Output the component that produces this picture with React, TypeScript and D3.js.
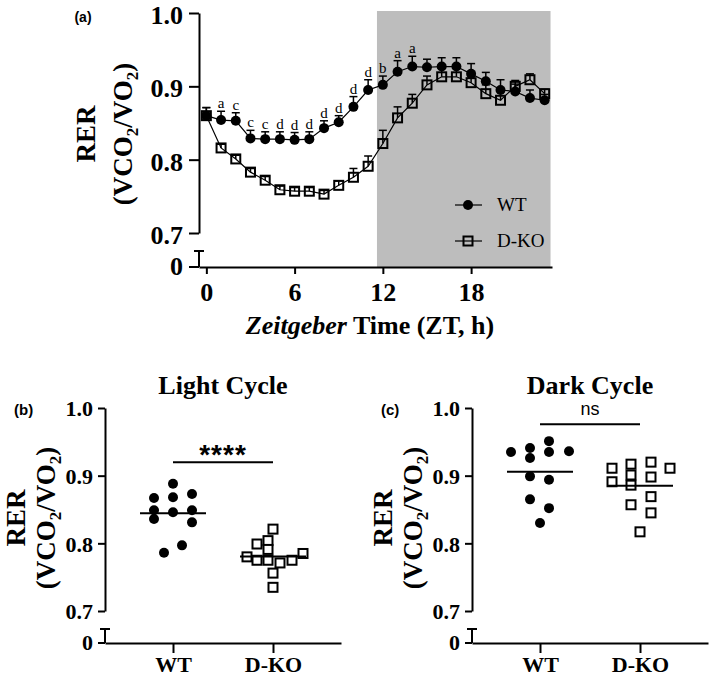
import React, { useEffect, useRef } from "react";
import * as d3 from "d3";

// ---- panel (a): RER time course ----
const zt = [0, 1, 2, 3, 4, 5, 6, 7, 8, 9, 10, 11, 12, 13, 14, 15, 16, 17, 18, 19, 20, 21, 22, 23];
const wtMean = [0.860, 0.854, 0.853, 0.829, 0.828, 0.828, 0.827, 0.828, 0.843, 0.851, 0.872, 0.895, 0.902, 0.920, 0.927, 0.926, 0.927, 0.927, 0.917, 0.907, 0.895, 0.893, 0.884, 0.881];
const wtSem = [0.011, 0.012, 0.011, 0.011, 0.010, 0.010, 0.010, 0.010, 0.010, 0.009, 0.014, 0.014, 0.012, 0.015, 0.014, 0.011, 0.012, 0.012, 0.014, 0.012, 0.014, 0.010, 0.011, 0.008];
const dkoMean = [0.860, 0.816, 0.801, 0.783, 0.772, 0.759, 0.757, 0.757, 0.753, 0.765, 0.776, 0.791, 0.822, 0.857, 0.877, 0.902, 0.913, 0.913, 0.905, 0.890, 0.881, 0.900, 0.909, 0.890];
const dkoSem = [0.011, 0.005, 0.005, 0.005, 0.005, 0.005, 0.005, 0.005, 0.005, 0.006, 0.012, 0.014, 0.018, 0.015, 0.012, 0.012, 0.012, 0.012, 0.012, 0.012, 0.012, 0.008, 0.008, 0.006];
const sigLetters = ["", "a", "c", "c", "c", "d", "d", "d", "d", "d", "d", "d", "b", "a", "a", "", "", "", "", "", "", "", "", ""];
const darkPhase = [11.6, 23.4];
const xTicks = [0, 6, 12, 18];
const yTicks = [0.7, 0.8, 0.9, 1.0];

// ---- panels (b) and (c): individual animals ----
const groups = ["WT", "D-KO"];
const lightWtValues = [0.888, 0.867, 0.868, 0.873, 0.849, 0.846, 0.849, 0.836, 0.831, 0.797, 0.786];
const lightWtLanes = [0, -1.9, 0, 1.9, -1.9, 0, 1.9, -1.9, 1.9, 0.9, -0.9];
const lightDkoValues = [0.821, 0.799, 0.804, 0.791, 0.780, 0.775, 0.775, 0.771, 0.775, 0.785, 0.756, 0.735];
const lightDkoLanes = [0, -1.6, -0.5, -0.5, -2.6, -1.6, -0.5, 0.7, 1.9, 3.0, 0, 0];
const darkWtValues = [0.951, 0.941, 0.935, 0.935, 0.936, 0.926, 0.899, 0.894, 0.865, 0.852, 0.830];
const darkWtLanes = [0.9, -1, 0.9, -2.9, 2.9, -1, -1, 0.9, -1, 0.9, 0];
const darkDkoValues = [0.911, 0.917, 0.920, 0.911, 0.891, 0.901, 0.898, 0.886, 0.869, 0.857, 0.845, 0.817];
const darkDkoLanes = [-2.8, -0.9, 1.1, 3.0, -2.8, -0.9, 1.1, -0.9, 1.1, -0.9, 1.1, 0];

const SERIF = "'Liberation Serif', 'Times New Roman', serif";
const SANS = "'Liberation Sans', Arial, sans-serif";

type Sel = d3.Selection<SVGGElement, unknown, null, undefined>;

function styleAxis(ax: Sel, size: number) {
  ax.select("path.domain").attr("stroke", "#000").attr("stroke-width", 2);
  ax.selectAll(".tick line").attr("stroke", "#000").attr("stroke-width", 2);
  ax.selectAll(".tick text")
    .attr("fill", "#000")
    .style("font-family", SERIF)
    .style("font-weight", "bold")
    .style("font-size", `${size}px`);
}

function rerLabel(g: Sel, cx: number, cy: number, gap: number) {
  // two-line rotated y title: "RER" and "(VCO2/VO2)"
  g.append("text")
    .attr("transform", `translate(${cx},${cy}) rotate(-90)`)
    .attr("text-anchor", "middle")
    .style("font-family", SERIF)
    .style("font-weight", "bold")
    .style("font-size", "27px")
    .text("RER");
  const t = g.append("text")
    .attr("transform", `translate(${cx + gap},${cy}) rotate(-90)`)
    .attr("text-anchor", "middle")
    .style("font-family", SERIF)
    .style("font-weight", "bold")
    .style("font-size", "27px");
  t.append("tspan").text("(VCO");
  t.append("tspan").attr("dy", 6).style("font-size", "17px").text("2");
  t.append("tspan").attr("dy", -6).text("/VO");
  t.append("tspan").attr("dy", 6).style("font-size", "17px").text("2");
  t.append("tspan").attr("dy", -6).text(")");
}

// little lower stub of the broken y axis with its "0" tick
function axisBreak(g: Sel, ax: number, capY: number, zeroY: number, tick: number, pad: number, size: number) {
  g.append("line").attr("x1", ax).attr("x2", ax).attr("y1", capY).attr("y2", zeroY)
    .attr("stroke", "#000").attr("stroke-width", 2);
  g.append("line").attr("x1", ax - 5).attr("x2", ax + 5).attr("y1", capY).attr("y2", capY)
    .attr("stroke", "#000").attr("stroke-width", 2);
  g.append("line").attr("x1", ax - tick).attr("x2", ax).attr("y1", zeroY).attr("y2", zeroY)
    .attr("stroke", "#000").attr("stroke-width", 2);
  g.append("text")
    .attr("x", ax - tick - pad).attr("y", zeroY).attr("dy", "0.32em")
    .attr("text-anchor", "end")
    .style("font-family", SERIF).style("font-weight", "bold").style("font-size", `${size}px`)
    .text("0");
}

function drawTimeCourse(svg: d3.Selection<SVGSVGElement, unknown, null, undefined>) {
  const g = svg.append("g") as Sel;
  const top = 13; // y of 1.0
  const x = d3.scaleLinear().domain([-0.5, 23.5]).range([199, 552]);
  const y = d3.scaleLinear().domain([0.7, 1.0]).range([top + 220, top]);
  const baseY = top + 254;
  const capY = top + 238;

  // dark phase shading
  g.append("rect")
    .attr("x", x(darkPhase[0]))
    .attr("y", y(1.0) - 2)
    .attr("width", x(darkPhase[1]) - x(darkPhase[0]))
    .attr("height", baseY - y(1.0) + 2)
    .attr("fill", "#bdbdbd");

  const yAxis = g.append("g")
    .attr("transform", `translate(${x(-0.5)},0)`)
    .call(d3.axisLeft(y).tickValues(yTicks).tickFormat(d3.format(".1f")).tickSize(10).tickSizeOuter(0).tickPadding(6));
  styleAxis(yAxis, 26);
  yAxis.selectAll(".tick text").attr("dy", "0.4em");
  axisBreak(g, x(-0.5), capY, baseY, 10, 6, 26);

  const xAxis = g.append("g")
    .attr("transform", `translate(0,${baseY})`)
    .call(d3.axisBottom(x).tickValues(xTicks).tickFormat(d3.format("d")).tickSize(7).tickSizeOuter(0).tickPadding(9));
  styleAxis(xAxis, 26);

  const series = [
    { name: "D-KO", mean: dkoMean, sem: dkoSem },
    { name: "WT", mean: wtMean, sem: wtSem },
  ];
  const line = d3.line<number>().x((_, i) => x(zt[i])).y((d) => y(d));

  series.forEach((s) => {
    g.append("path")
      .attr("d", line(s.mean))
      .attr("fill", "none")
      .attr("stroke", "#000")
      .attr("stroke-width", 1.2);

    // upward error bars
    const eb = g.append("g");
    s.mean.forEach((m, i) => {
      const cx = x(zt[i]);
      eb.append("line").attr("x1", cx).attr("x2", cx).attr("y1", y(m)).attr("y2", y(m + s.sem[i]))
        .attr("stroke", "#000").attr("stroke-width", 1.5);
      eb.append("line").attr("x1", cx - 4).attr("x2", cx + 4).attr("y1", y(m + s.sem[i])).attr("y2", y(m + s.sem[i]))
        .attr("stroke", "#000").attr("stroke-width", 1.5);
    });

    if (s.name === "WT") {
      g.append("g").selectAll("circle").data(s.mean).join("circle")
        .attr("cx", (_, i) => x(zt[i]))
        .attr("cy", (d) => y(d))
        .attr("r", 5)
        .attr("fill", "#000");
    } else {
      g.append("g").selectAll("rect").data(s.mean).join("rect")
        .attr("x", (_, i) => x(zt[i]) - 4.5)
        .attr("y", (d) => y(d) - 4.5)
        .attr("width", 9)
        .attr("height", 9)
        .attr("fill", "none")
        .attr("stroke", "#000")
        .attr("stroke-width", 2);
    }
  });

  // post-hoc letters above WT
  g.append("g").selectAll("text").data(sigLetters).join("text")
    .attr("x", (_, i) => x(zt[i]))
    .attr("y", (_, i) => y(wtMean[i] + wtSem[i]) - 3)
    .attr("text-anchor", "middle")
    .attr("fill", "#000")
    .style("font-family", SERIF)
    .style("font-size", "15px")
    .text((d) => d);

  // legend
  const legend = [
    { name: "WT", y: 205 },
    { name: "D-KO", y: 241 },
  ];
  legend.forEach((l) => {
    g.append("line").attr("x1", 455).attr("x2", 482).attr("y1", l.y).attr("y2", l.y)
      .attr("stroke", "#000").attr("stroke-width", 1.2);
    if (l.name === "WT") {
      g.append("circle").attr("cx", 468).attr("cy", l.y).attr("r", 5).attr("fill", "#000");
    } else {
      g.append("rect").attr("x", 463.5).attr("y", l.y - 4.5).attr("width", 9).attr("height", 9)
        .attr("fill", "none").attr("stroke", "#000").attr("stroke-width", 2);
    }
    g.append("text").attr("x", 497).attr("y", l.y).attr("dy", "0.34em")
      .style("font-family", SERIF).style("font-size", "19px").text(l.name);
  });

  rerLabel(g, 95, 134, 37);

  g.append("text").attr("x", 83).attr("y", 22).attr("text-anchor", "middle")
    .style("font-family", SANS).style("font-weight", "bold").style("font-size", "14px").text("(a)");

  const xl = g.append("text").attr("x", 370).attr("y", 334).attr("text-anchor", "middle")
    .style("font-family", SERIF).style("font-weight", "bold").style("font-size", "26px");
  xl.append("tspan").style("font-style", "italic").text("Zeitgeber");
  xl.append("tspan").text(" Time (ZT, h)");
}

interface ScatterOpts {
  ax: number;
  title: string;
  tag: string;
  wt: number[];
  wtLanes: number[];
  dko: number[];
  dkoLanes: number[];
  sig: string;
  sigY: number;
}

function drawScatter(svg: d3.Selection<SVGSVGElement, unknown, null, undefined>, o: ScatterOpts) {
  const g = svg.append("g") as Sel;
  const y = d3.scaleLinear().domain([0.7, 1.0]).range([611, 408]);
  const x = d3.scalePoint<string>().domain(groups).range([o.ax, o.ax + 236]).padding(0.68);
  const baseY = 643;
  const lane = 10;

  const yAxis = g.append("g")
    .attr("transform", `translate(${o.ax},0)`)
    .call(d3.axisLeft(y).tickValues(yTicks).tickFormat(d3.format(".1f")).tickSize(7).tickSizeOuter(0).tickPadding(5));
  styleAxis(yAxis, 22);
  yAxis.selectAll(".tick text").attr("dy", "0.36em");
  axisBreak(g, o.ax, 629, baseY, 7, 5, 22);

  const xAxis = g.append("g")
    .attr("transform", `translate(0,${baseY})`)
    .call(d3.axisBottom(x).tickSize(10).tickSizeOuter(0).tickPadding(4));
  styleAxis(xAxis, 22);
  xAxis.selectAll(".tick text").attr("dy", "0.68em");

  // WT circles
  g.append("g").selectAll("circle").data(o.wt).join("circle")
    .attr("cx", (_, i) => (x("WT") as number) + o.wtLanes[i] * lane)
    .attr("cy", (d) => y(d))
    .attr("r", 5)
    .attr("fill", "#000");

  // D-KO open squares
  g.append("g").selectAll("rect").data(o.dko).join("rect")
    .attr("x", (_, i) => (x("D-KO") as number) + o.dkoLanes[i] * lane - 4.5)
    .attr("y", (d) => y(d) - 4.5)
    .attr("width", 9)
    .attr("height", 9)
    .attr("fill", "#fff")
    .attr("stroke", "#000")
    .attr("stroke-width", 2);

  // mean lines
  [
    { k: "WT", m: d3.mean(o.wt) as number },
    { k: "D-KO", m: d3.mean(o.dko) as number },
  ].forEach((d) => {
    const cx = x(d.k) as number;
    g.append("line").attr("x1", cx - 33).attr("x2", cx + 33).attr("y1", y(d.m)).attr("y2", y(d.m))
      .attr("stroke", "#000").attr("stroke-width", 2);
  });

  // significance bar
  const sx0 = x("WT") as number;
  const sx1 = x("D-KO") as number;
  g.append("line").attr("x1", sx0).attr("x2", sx1).attr("y1", y(o.sigY)).attr("y2", y(o.sigY))
    .attr("stroke", "#000").attr("stroke-width", 2);
  if (o.sig === "ns") {
    g.append("text").attr("x", (sx0 + sx1) / 2).attr("y", y(o.sigY) - 9).attr("text-anchor", "middle")
      .style("font-family", SANS).style("font-size", "18px").text(o.sig);
  } else {
    g.append("text").attr("x", (sx0 + sx1) / 2).attr("y", y(o.sigY) + 2).attr("text-anchor", "middle")
      .style("font-family", SANS).style("font-weight", "bold").style("font-size", "28px")
      .style("letter-spacing", "1px").text(o.sig);
  }

  g.append("text").attr("x", (sx0 + sx1) / 2).attr("y", 394).attr("text-anchor", "middle")
    .style("font-family", SERIF).style("font-weight", "bold").style("font-size", "26px").text(o.title);

  g.append("text").attr("x", o.ax - 91).attr("y", 415).attr("text-anchor", "start")
    .style("font-family", SANS).style("font-weight", "bold").style("font-size", "15px").text(o.tag);

  rerLabel(g, o.ax - 80, 518, 30);
}

export default function App() {
  const ref = useRef<SVGSVGElement>(null);

  useEffect(() => {
    if (!ref.current) return;
    const svg = d3.select(ref.current);
    svg.selectAll("*").remove();
    drawTimeCourse(svg);
    drawScatter(svg, {
      ax: 105, title: "Light Cycle", tag: "(b)",
      wt: lightWtValues, wtLanes: lightWtLanes,
      dko: lightDkoValues, dkoLanes: lightDkoLanes,
      sig: "****", sigY: 0.92,
    });
    drawScatter(svg, {
      ax: 472, title: "Dark Cycle", tag: "(c)",
      wt: darkWtValues, wtLanes: darkWtLanes,
      dko: darkDkoValues, dkoLanes: darkDkoLanes,
      sig: "ns", sigY: 0.976,
    });
  }, []);

  return (
    <svg
      ref={ref}
      width={709}
      height={677}
      style={{ position: "absolute", left: 0, top: 0, background: "#fff" }}
    />
  );
}
